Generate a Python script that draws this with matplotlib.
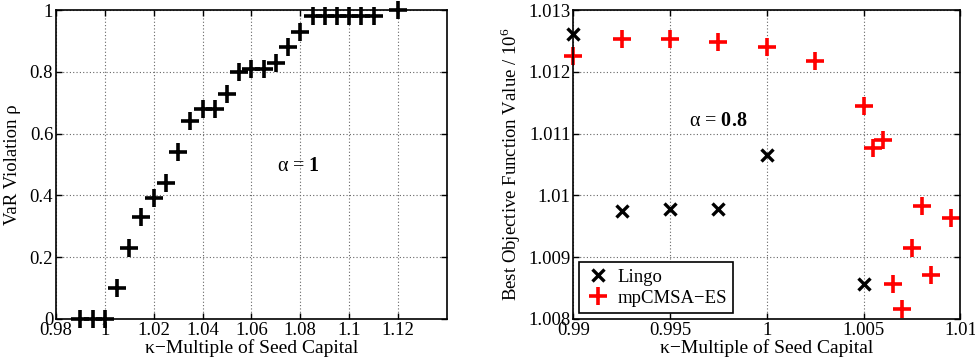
import matplotlib
matplotlib.use("Agg")
import matplotlib.pyplot as plt

plt.rcParams['font.family'] = ['Liberation Serif', 'DejaVu Serif']
plt.rcParams['mathtext.fontset'] = 'custom'
plt.rcParams['mathtext.rm'] = 'Liberation Serif'
plt.rcParams['mathtext.bf'] = 'Liberation Serif:bold'
plt.rcParams['font.size'] = 13.5

# left panel: alpha = 1
kappa_left = [0.99, 0.995, 1.0, 1.005, 1.01, 1.015, 1.02, 1.025, 1.03, 1.035,
              1.04, 1.045, 1.05, 1.055, 1.06, 1.065, 1.07, 1.075, 1.08,
              1.085, 1.09, 1.095, 1.1, 1.105, 1.11, 1.12]
rho_left = [0, 0, 0, 0.10, 0.23, 0.33, 0.39, 0.44, 0.54, 0.64,
            0.68, 0.68, 0.73, 0.80, 0.81, 0.81, 0.83, 0.88, 0.93,
            0.98, 0.98, 0.98, 0.98, 0.98, 0.98, 1.0]

# right panel: alpha = 0.8
kappa_lingo = [0.99, 0.9925, 0.995, 0.9975, 1.0, 1.005]
obj_lingo = [1.01262, 1.00974, 1.00978, 1.00978, 1.01066, 1.00857]
kappa_es = [0.99, 0.9925, 0.995, 0.9975, 1.0, 1.0025, 1.005, 1.0055, 1.006,
            1.0065, 1.007, 1.0075, 1.008, 1.0085, 1.0095]
obj_es = [1.01225, 1.01254, 1.01253, 1.01249, 1.01241, 1.01218, 1.01144,
          1.01076, 1.0109, 1.00856, 1.00816, 1.00915, 1.00983, 1.00871, 1.00963]

xticks_left = [0.98, 1.0, 1.02, 1.04, 1.06, 1.08, 1.1, 1.12]
xticklabels_left = ['0.98', '1', '1.02', '1.04', '1.06', '1.08', '1.1', '1.12']
yticks_left = [0, 0.2, 0.4, 0.6, 0.8, 1]
yticklabels_left = ['0', '0.2', '0.4', '0.6', '0.8', '1']
xticks_right = [0.99, 0.995, 1.0, 1.005, 1.01]
xticklabels_right = ['0.99', '0.995', '1', '1.005', '1.01']
yticks_right = [1.008, 1.009, 1.01, 1.011, 1.012, 1.013]
yticklabels_right = ['1.008', '1.009', '1.01', '1.011', '1.012', '1.013']

fig = plt.figure(figsize=(9.75, 3.62), dpi=100)
ax1 = fig.add_axes([0.0574, 0.119, 0.401, 0.853])
ax2 = fig.add_axes([0.588, 0.119, 0.397, 0.853])


def style(ax):
    ax.grid(True, linestyle=(0, (1, 2)), color='#666666', linewidth=0.8)
    ax.tick_params(direction='in', top=True, right=True, length=4, width=1, pad=2)
    for s in ax.spines.values():
        s.set_linewidth(1.2)
    ax.set_axisbelow(True)


ax1.plot(kappa_left, rho_left, '+', color='black', markersize=13, markeredgewidth=2.6,
         clip_on=False)
ax1.set_xlim(0.98, 1.14)
ax1.set_ylim(0, 1)
ax1.set_xticks(xticks_left)
ax1.set_xticklabels(xticklabels_left)
ax1.set_yticks(yticks_left)
ax1.set_yticklabels(yticklabels_left)
ax1.set_xlabel('κ−Multiple of Seed Capital', labelpad=0, fontsize=14)
ax1.set_ylabel('VaR Violation ρ', labelpad=6)
ax1.text(1.0705, 0.495, r'α = $\mathbf{1}$', fontsize=14.5, va='center')
style(ax1)

ax2.plot(kappa_lingo, obj_lingo, 'x', color='black', markersize=9, markeredgewidth=2.4,
         label='Lingo', clip_on=False)
ax2.plot(kappa_es, obj_es, '+', color='red', markersize=13, markeredgewidth=2.6,
         label='mpCMSA−ES', clip_on=False)
ax2.set_xlim(0.99, 1.01)
ax2.set_ylim(1.008, 1.013)
ax2.set_xticks(xticks_right)
ax2.set_xticklabels(xticklabels_right)
ax2.set_yticks(yticks_right)
ax2.set_yticklabels(yticklabels_right)
ax2.set_xlabel('κ−Multiple of Seed Capital', labelpad=0, fontsize=14)
ax2.set_ylabel(r'Best Objective Function Value / 10$^6$', labelpad=4)
ax2.text(0.996, 1.0112, r'α = $\mathbf{0.8}$', fontsize=14.5, va='center')
style(ax2)
leg = ax2.legend(loc='lower left', fancybox=False, edgecolor='black', framealpha=1,
                 borderaxespad=0.3, handletextpad=0.4, handlelength=1.3,
                 borderpad=0.35, labelspacing=0.2, fontsize=13.5)
leg.get_frame().set_linewidth(1.2)

fig.savefig('out.png', dpi=100)
